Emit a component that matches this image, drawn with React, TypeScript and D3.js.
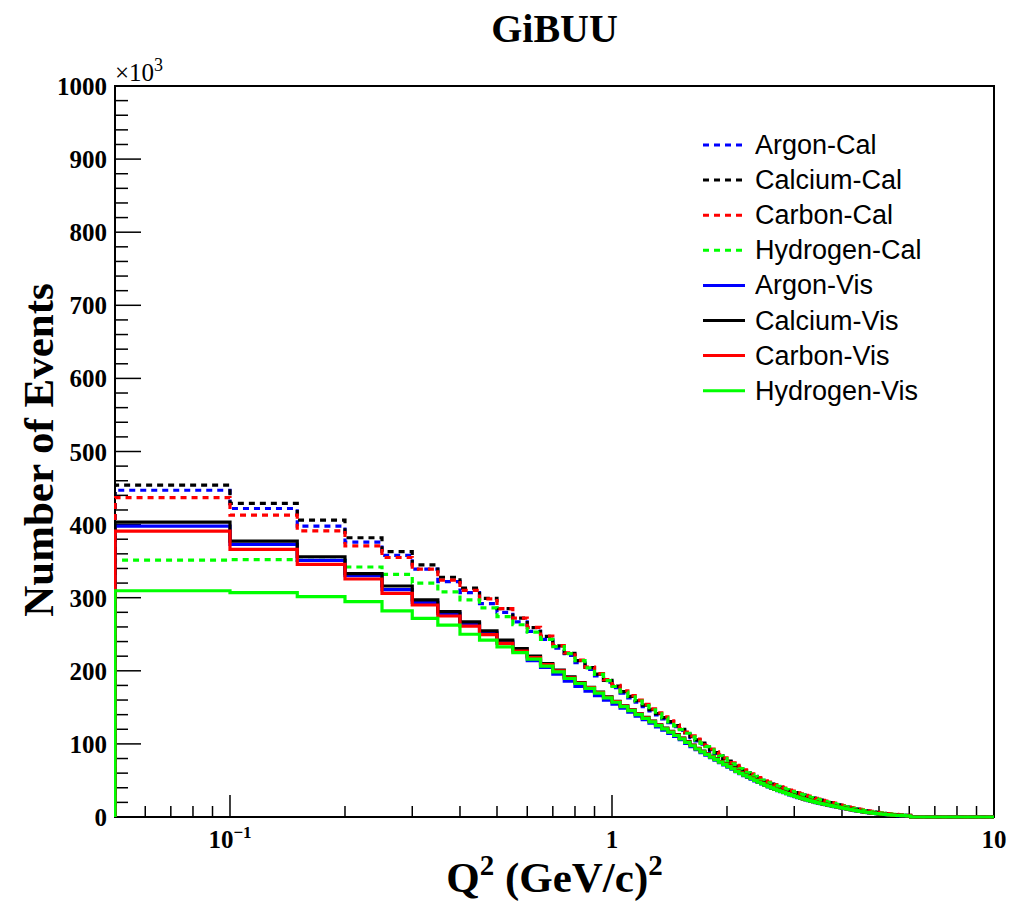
import React from 'react';
import * as d3 from 'd3';

// Q^2 histogram: 0.05 (GeV/c)^2 wide bins, first bin starts at 0.05
const binWidth = 0.05;
const qMin = 0.05;
const qMax = 10;

// bin contents in units of 10^3 events, one value per bin from 0.05 upwards;
// bins past the end of an array are empty
const argonCal = [
  447, 422, 398, 376, 358, 339, 322, 307, 292, 280, 267, 254, 243, 231, 221, 211, 202, 193, 184.5,
  177, 169.5, 163, 157, 151, 145.2, 139.7, 134.3, 128.9, 123.5, 118.5, 113.6, 108.7, 104.2, 99.8, 95.3,
  90.9, 86.9, 83, 79, 75.6, 72.1, 68.7, 65.7, 62.8, 59.8, 57.3, 54.9, 52.4, 50, 48, 46.3, 44.6, 43,
  41.4, 40, 38.5, 37.1, 35.7, 34.4, 33.1, 31.9, 30.8, 29.7, 28.6, 27.5, 26.5, 25.5, 24.5, 23.6, 22.7,
  21.8, 21, 20.2, 19.4, 18.7, 18, 17.1, 16.3, 15.5, 14.8, 14.1, 13.4, 12.8, 12.1, 11.6, 11, 10.5, 10,
  9.5, 9, 8.6, 8.1, 7.7, 7.3, 7, 6.6, 6.3, 6, 5.7, 5.4, 5.1, 4.8, 4.6, 4.3, 4.1, 3.9, 3.7, 3.5, 3.3,
  3.1, 3, 2.8, 2.6, 2.5, 2.4, 2.2, 2.1, 2, 1.9, 1.8,
];
const calciumCal = [
  454, 429, 406, 382, 363, 345, 328, 313, 299, 285, 272, 259, 247, 234, 224, 214, 204.5, 195.5, 187,
  179, 171.5, 165, 159, 153, 147, 141.5, 136, 130.5, 125, 120, 115, 110, 105.5, 101, 96.5, 92, 88, 84,
  80, 76.5, 73, 69.5, 66.5, 63.5, 60.5, 58, 55.5, 53, 50.5, 48.5, 46.8, 45.1, 43.5, 41.9, 40.4, 38.9,
  37.5, 36.1, 34.8, 33.5, 32.3, 31.1, 30, 28.9, 27.8, 26.8, 25.8, 24.8, 23.9, 23, 22.1, 21.3, 20.5,
  19.7, 19, 18.3, 17.4, 16.6, 15.8, 15.1, 14.4, 13.7, 13.1, 12.4, 11.9, 11.3, 10.8, 10.3, 9.8, 9.3,
  8.9, 8.4, 8, 7.6, 7.3, 6.9, 6.6, 6.3, 6, 5.7, 5.4, 5.1, 4.9, 4.6, 4.4, 4.2, 4, 3.8, 3.6, 3.4, 3.3,
  3.1, 2.9, 2.8, 2.7, 2.5, 2.4, 2.3, 2.2, 2.1,
];
const carbonCal = [
  437, 413, 391.5, 371, 355, 339, 324, 310, 298.5, 285, 272, 259.5, 247.5, 234.5, 224.5, 214.5, 205,
  196, 187.8, 180, 172.5, 166, 160, 154, 148, 142.5, 137, 131.5, 126, 121, 116, 111, 106.5, 102, 97.5,
  93, 89, 85, 81, 77.5, 74, 70.5, 67.4, 64.4, 61.4, 58.9, 56.4, 53.9, 51.4, 49.3, 47.6, 45.9, 44.3,
  42.7, 41.2, 39.7, 38.3, 36.9, 35.5, 34.2, 33, 31.8, 30.7, 29.6, 28.5, 27.5, 26.5, 25.5, 24.5, 23.6,
  22.7, 21.9, 21.1, 20.3, 19.6, 18.9, 18, 17.2, 16.4, 15.7, 15, 14.3, 13.6, 12.9, 12.4, 11.8, 11.3,
  10.8, 10.3, 9.8, 9.3, 8.8, 8.4, 8, 7.7, 7.3, 7, 6.6, 6.3, 6, 5.7, 5.4, 5.1, 4.9, 4.6, 4.4, 4.2, 4,
  3.8, 3.6, 3.5, 3.3, 3.1, 3, 2.8, 2.7, 2.6, 2.4, 2.3, 2.2,
];
const hydrogenCal = [
  351.5, 352, 351, 342, 332, 320, 308, 297, 286, 274, 263, 253, 243, 233, 223.5, 214, 204, 195, 186.5,
  178.5, 171, 164.5, 158.5, 152.5, 146.5, 141, 135.5, 130, 124.6, 119.6, 114.6, 109.7, 105.2, 100.7,
  96.2, 91.8, 87.8, 83.8, 79.8, 76.3, 72.8, 69.3, 66.3, 63.3, 60.4, 57.9, 55.4, 52.9, 50.4, 48.4, 46.7,
  45, 43.4, 41.8, 40.3, 38.8, 37.4, 36, 34.7, 33.4, 32.2, 31, 29.9, 28.8, 27.7, 26.7, 25.7, 24.7, 23.8,
  22.9, 22, 21.2, 20.4, 19.6, 18.9, 18.2, 17.3, 16.5, 15.7, 15, 14.3, 13.6, 13, 12.3, 11.8, 11.2, 10.7,
  10.2, 9.7, 9.2, 8.8, 8.3, 7.9, 7.5, 7.2, 6.8, 6.5, 6.2, 5.9, 5.6, 5.3, 5, 4.8, 4.5, 4.3, 4.1, 3.9,
  3.7, 3.5, 3.3, 3.2, 3, 2.8, 2.7, 2.6, 2.4, 2.3, 2.2, 2.1, 2,
];
const argonVis = [
  398, 373, 351, 330, 311, 293.6, 278.6, 264.7, 252, 239.5, 228, 214, 204.5, 195.5, 186, 178.5, 172,
  166, 160, 154.5, 148.8, 143.5, 138.1, 133.2, 128.3, 123.4, 118.9, 114.5, 110.1, 105.7, 100.8, 96.4,
  92, 88, 84.6, 81.1, 77.7, 74.2, 71.3, 68.3, 65.4, 61.9, 59.2, 56.7, 54.2, 51.8, 49.5, 47.4, 45.3,
  43.2, 41.2, 39.4, 37.8, 36.2, 34.7, 33.2, 31.8, 30.4, 29.1, 27.8, 26.6, 25.5, 24.4, 23.4, 22.4, 21.5,
  20.6, 19.8, 19, 18.2, 17.5, 16.8, 16.1, 15.5, 14.9, 14.3, 13.7, 13.1, 12.5, 11.9, 11.3, 10.8, 10.3,
  9.8, 9.3, 8.8, 8.4, 7.9, 7.5, 7.1, 6.7, 6.3, 6, 5.7, 5.4, 5.1, 4.8, 4.5, 4.3, 4, 3.8, 3.6, 3.4, 3.2,
  3, 2.8, 2.7, 2.5, 2.4, 2.2, 2.1, 2, 1.9, 1.8, 1.7, 1.6, 1.5, 1.4, 1.3, 1.2,
];
const calciumVis = [
  403.5, 377.5, 356, 333, 316, 297, 281, 267, 254.5, 242, 230.5, 220, 210, 201, 191.7, 184, 177.5, 171,
  164.5, 158.3, 152.2, 146.7, 141.2, 136.2, 131.2, 126.2, 121.6, 117.1, 112.6, 108, 103, 98.5, 94, 90,
  86.4, 82.9, 79.4, 75.9, 72.8, 69.8, 66.8, 63.3, 60.5, 57.9, 55.4, 53, 50.6, 48.4, 46.3, 44.2, 42.2,
  40.3, 38.6, 37, 35.5, 34, 32.5, 31.1, 29.8, 28.5, 27.3, 26.1, 25, 24, 23, 22.1, 21.2, 20.4, 19.6,
  18.8, 18, 17.3, 16.6, 16, 15.4, 14.8, 14.2, 13.6, 13, 12.4, 11.8, 11.3, 10.8, 10.3, 9.8, 9.3, 8.8,
  8.3, 7.9, 7.5, 7.1, 6.7, 6.4, 6.1, 5.8, 5.5, 5.2, 4.9, 4.6, 4.3, 4.1, 3.9, 3.7, 3.5, 3.3, 3.1, 3, 2.8,
  2.7, 2.5, 2.4, 2.3, 2.2, 2.1, 2, 1.9, 1.8, 1.7, 1.6, 1.5,
];
const carbonVis = [
  391, 366, 345.6, 325.6, 306, 290, 275, 261, 249.6, 237.4, 227, 218, 208.5, 200, 190.5, 183.3, 177,
  170.3, 163.7, 157.7, 151.7, 146.2, 140.7, 135.7, 130.7, 125.7, 121.1, 116.6, 112.1, 107.6, 102.6,
  98.1, 93.6, 89.6, 86, 82.5, 79, 75.5, 72.5, 69.5, 66.5, 63, 60.3, 57.7, 55.2, 52.8, 50.4, 48.2, 46.1,
  44, 42, 40.1, 38.4, 36.8, 35.3, 33.8, 32.4, 31, 29.7, 28.4, 27.2, 26, 24.9, 23.9, 22.9, 22, 21.1,
  20.3, 19.5, 18.7, 18, 17.3, 16.6, 15.9, 15.3, 14.7, 14.1, 13.5, 12.9, 12.3, 11.7, 11.2, 10.7, 10.2,
  9.7, 9.2, 8.7, 8.2, 7.8, 7.4, 7, 6.6, 6.3, 6, 5.7, 5.4, 5.1, 4.8, 4.5, 4.3, 4.1, 3.9, 3.7, 3.5, 3.3,
  3.1, 2.9, 2.8, 2.6, 2.5, 2.4, 2.3, 2.2, 2.1, 2, 1.9, 1.8, 1.7, 1.6, 1.5,
];
const hydrogenVis = [
  309.5, 307, 301.4, 294.5, 282, 271.7, 262.6, 250, 242, 232.8, 224.8, 216, 206.5, 198.6, 189.5, 182.6,
  176, 169.5, 163, 157, 151, 145.5, 140, 135, 130, 125, 120.5, 116, 111.5, 107, 102, 97.5, 93, 89, 85.5,
  82, 78.5, 75, 72, 69, 66, 62.5, 59.8, 57.2, 54.7, 52.3, 50, 47.8, 45.7, 43.6, 41.6, 39.8, 38.1, 36.5,
  35, 33.5, 32.1, 30.7, 29.4, 28.1, 26.9, 25.8, 24.7, 23.7, 22.7, 21.8, 20.9, 20.1, 19.3, 18.5, 17.8,
  17.1, 16.4, 15.8, 15.2, 14.6, 14, 13.4, 12.8, 12.2, 11.6, 11.1, 10.6, 10.1, 9.6, 9.1, 8.6, 8.1, 7.7,
  7.3, 6.9, 6.5, 6.2, 5.9, 5.6, 5.3, 5, 4.7, 4.5, 4.2, 4, 3.8, 3.6, 3.4, 3.2, 3, 2.9, 2.7, 2.6, 2.4,
  2.3, 2.2, 2.1, 2, 1.9, 1.8, 1.7, 1.6, 1.5, 1.4,
];

const seriesNames = [
  'Argon-Cal', 'Calcium-Cal', 'Carbon-Cal', 'Hydrogen-Cal',
  'Argon-Vis', 'Calcium-Vis', 'Carbon-Vis', 'Hydrogen-Vis',
];
const seriesValues = [argonCal, calciumCal, carbonCal, hydrogenCal, argonVis, calciumVis, carbonVis, hydrogenVis];

const yTickValues = d3.range(0, 1001, 100);
const xTickLabels = [
  { q: 0.1, base: '10', exp: '\u22121' },
  { q: 1, base: '1', exp: '' },
  { q: 10, base: '10', exp: '' },
];

const colors = ['#0000ff', '#000000', '#ff0000', '#00ff00'];
const W = 1014, H = 904;
const left = 115, right = 994, top = 86, bottom = 817;
const serif = '"Liberation Serif", "Times New Roman", serif';
const sans = '"Liberation Sans", Arial, sans-serif';

export default function App() {
  const x = d3.scaleLog().domain([qMin, qMax]).range([left, right]);
  const y = d3.scaleLinear().domain([0, 1000]).range([bottom, top]);

  const nBins = Math.round((qMax - qMin) / binWidth);
  const edges = d3.range(nBins + 1).map(i => +(qMin + i * binWidth).toFixed(2));

  const line = d3.line<[number, number]>()
    .x(d => x(d[0]))
    .y(d => y(d[1]))
    .curve(d3.curveStepAfter);

  const histPath = (vals: number[]) => {
    const pts: [number, number][] = [[edges[0], 0]];
    for (let i = 0; i < nBins; i++) pts.push([edges[i], vals[i] ?? 0]);
    pts.push([edges[nBins], vals[nBins - 1] ?? 0]);
    return line(pts) || '';
  };

  const xMinor = [0.01, 0.1, 1]
    .flatMap(dec => d3.range(2, 10).map(k => +(k * dec).toFixed(3)))
    .filter(v => v > qMin && v < qMax);
  const yMinor = d3.range(0, 1001, 20).filter(v => v % 100 !== 0);

  return (
    <svg width={W} height={H} style={{ position: 'absolute', left: 0, top: 0, background: '#fff' }}>
      <defs>
        <clipPath id="plot">
          <rect x={left - 1} y={top} width={right - left + 2} height={bottom - top + 2} />
        </clipPath>
      </defs>
      <rect width={W} height={H} fill="#fff" />

      {/* frame */}
      <rect x={left} y={top} width={right - left} height={bottom - top} fill="none" stroke="#000" strokeWidth={2} />

      {/* y axis */}
      {yTickValues.map(v => (
        <g key={'y' + v}>
          <line x1={left} x2={left + 26} y1={y(v)} y2={y(v)} stroke="#000" strokeWidth={1.5} />
          <text x={left - 8} y={y(v) + 9} textAnchor="end" fontFamily={serif} fontWeight="bold" fontSize={25}>{v}</text>
        </g>
      ))}
      {yMinor.map(v => (
        <line key={'ym' + v} x1={left} x2={left + 13} y1={y(v)} y2={y(v)} stroke="#000" strokeWidth={1.5} />
      ))}
      <text x={left} y={top - 5} fontFamily={serif} fontSize={25}>
        {'\u00d710'}<tspan fontSize={18} dy={-10}>3</tspan>
      </text>

      {/* x axis */}
      {xTickLabels.map(t => (
        <g key={'x' + t.q}>
          <line x1={x(t.q)} x2={x(t.q)} y1={bottom} y2={bottom - 22} stroke="#000" strokeWidth={1.5} />
          <text x={x(t.q)} y={bottom + 31} textAnchor="middle" fontFamily={serif} fontWeight="bold" fontSize={25}>
            {t.base}{t.exp && <tspan fontSize={17} dy={-10}>{t.exp}</tspan>}
          </text>
        </g>
      ))}
      {xMinor.map(v => (
        <line key={'xm' + v} x1={x(v)} x2={x(v)} y1={bottom} y2={bottom - 11} stroke="#000" strokeWidth={1.5} />
      ))}

      {/* histograms, drawn over the frame like ROOT does */}
      <g clipPath="url(#plot)">
        {seriesValues.map((vals, i) => (
          <path key={seriesNames[i]} d={histPath(vals)} fill="none"
            stroke={colors[i % 4]} strokeWidth={3.2}
            strokeDasharray={i < 4 ? '6,5' : undefined} />
        ))}
      </g>

      {/* titles */}
      <text x={(left + right) / 2} y={42} textAnchor="middle" fontFamily={serif} fontWeight="bold" fontSize={40}>GiBUU</text>
      <text x={(left + right) / 2} y={892} textAnchor="middle" fontFamily={serif} fontWeight="bold" fontSize={43}>
        Q<tspan fontSize={29} dy={-17}>2</tspan><tspan dy={17}> (GeV/c)</tspan><tspan fontSize={29} dy={-17}>2</tspan>
      </text>
      <text transform="translate(53,450) rotate(-90)" textAnchor="middle" fontFamily={serif} fontWeight="bold" fontSize={43}>
        Number of Events
      </text>

      {/* legend */}
      {seriesNames.map((name, i) => {
        const ly = 145 + i * 35.1;
        return (
          <g key={'leg' + name}>
            <line x1={703} x2={745} y1={ly} y2={ly} stroke={colors[i % 4]} strokeWidth={3}
              strokeDasharray={i < 4 ? '6,5' : undefined} />
            <text x={755} y={ly + 9} fontFamily={sans} fontSize={27}>{name}</text>
          </g>
        );
      })}
    </svg>
  );
}
